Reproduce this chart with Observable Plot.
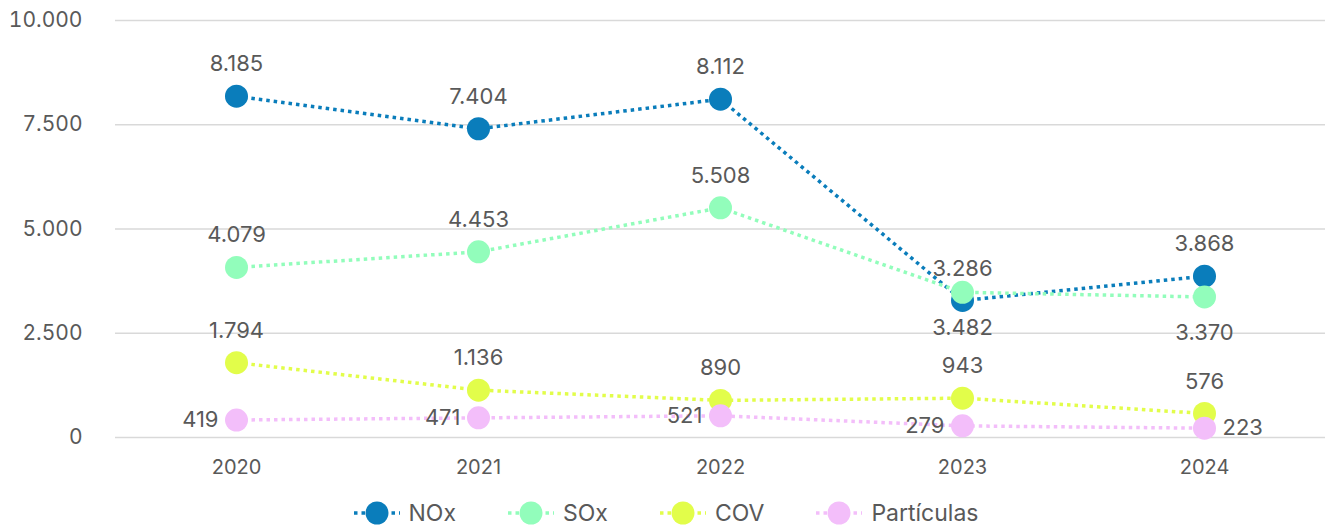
<!DOCTYPE html>
<html>
<head>
<meta charset="utf-8">
<script src="https://cdn.jsdelivr.net/npm/d3@7"></script>
<script src="https://cdn.jsdelivr.net/npm/@observablehq/plot@0.6"></script>
<style>
  html, body { margin: 0; padding: 0; background: #fff; }
  body { width: 1332px; font-family: Inter, "Noto Sans", sans-serif; }
  #legend { display: flex; justify-content: center; gap: 52px; margin-top: 20px; font-size: 23px; color: #595959; line-height: 26px; }
  #legend .item { display: flex; align-items: center; gap: 9px; }
  #legend svg { display: block; }
</style>
</head>
<body>
<div id="chart"></div>
<div id="legend"></div>
<script>
const years = ["2020", "2021", "2022", "2023", "2024"];
const seriesNames = ["NOx", "SOx", "COV", "Partículas"];
const nox = [8185, 7404, 8112, 3286, 3868];
const sox = [4079, 4453, 5508, 3482, 3370];
const cov = [1794, 1136, 890, 943, 576];
const particulas = [419, 471, 521, 279, 223];
const yTicks = [0, 2500, 5000, 7500, 10000];
const colors = ["#0a7dbb", "#92fdbb", "#e2fd4a", "#f3befa"];

const values = [nox, sox, cov, particulas];
const data = [];
seriesNames.forEach((s, i) => years.forEach((y, j) => data.push({series: s, year: y, value: values[i][j], si: i, yi: j})));

const loc = d3.formatLocale({decimal: ",", thousands: ".", grouping: [3], currency: ["", "€"]});
const fmt = loc.format(",d");

// label placement: above by default; SOx 2023/2024 below; Partículas left (2024 right)
function place(d) {
  if (d.series === "SOx" && (d.year === "2023" || d.year === "2024")) return "below";
  if (d.series === "Partículas") return d.year === "2024" ? "right" : "left";
  return "above";
}
const above = data.filter(d => place(d) === "above");
const below = data.filter(d => place(d) === "below");
const left = data.filter(d => place(d) === "left");
const right = data.filter(d => place(d) === "right");

const plot = Plot.plot({
  width: 1332,
  height: 480,
  marginLeft: 115,
  marginRight: 7,
  marginTop: 20,
  marginBottom: 43,
  style: {fontFamily: "Inter, 'Noto Sans', sans-serif", fontSize: "20px", color: "#595959", background: "#fff"},
  x: {type: "band", domain: years, padding: 0, label: null},
  y: {domain: [0, 10000], label: null},
  color: {domain: seriesNames, range: colors},
  marks: [
    Plot.gridY(yTicks, {stroke: "#d9d9d9", strokeOpacity: 1, strokeWidth: 1.5}),
    Plot.axisY(yTicks, {tickSize: 0, tickPadding: 33, tickFormat: fmt, fontSize: 21, fill: "#595959"}),
    Plot.axisX(years, {tickSize: 0, tickPadding: 22, fontSize: 20, fill: "#595959"}),
    Plot.line(data, {x: "year", y: "value", z: "series", stroke: "series", strokeWidth: 3.5, strokeDasharray: "3.5,4", strokeLinecap: "butt"}),
    Plot.dot(data, {x: "year", y: "value", fill: "series", r: 11.5, sort: {channel: "si"}}),
    Plot.text(above, {x: "year", y: "value", text: d => fmt(d.value), dy: -32, fontSize: 22, fill: "#595959"}),
    Plot.text(below, {x: "year", y: "value", text: d => fmt(d.value), dy: 36, fontSize: 22, fill: "#595959"}),
    Plot.text(left, {x: "year", y: "value", text: d => fmt(d.value), dx: -18, textAnchor: "end", fontSize: 22, fill: "#595959"}),
    Plot.text(right, {x: "year", y: "value", text: d => fmt(d.value), dx: 18, textAnchor: "start", fontSize: 22, fill: "#595959"})
  ]
});
document.getElementById("chart").appendChild(plot);

const legend = document.getElementById("legend");
seriesNames.forEach((s, i) => {
  const item = document.createElement("div");
  item.className = "item";
  item.innerHTML = `<svg width="46" height="26"><line x1="0" y1="13" x2="46" y2="13" stroke="${colors[i]}" stroke-width="3.5" stroke-dasharray="3.5,4"/><circle cx="23" cy="13" r="11.5" fill="${colors[i]}"/></svg><span>${s}</span>`;
  legend.appendChild(item);
});
</script>
</body>
</html>
